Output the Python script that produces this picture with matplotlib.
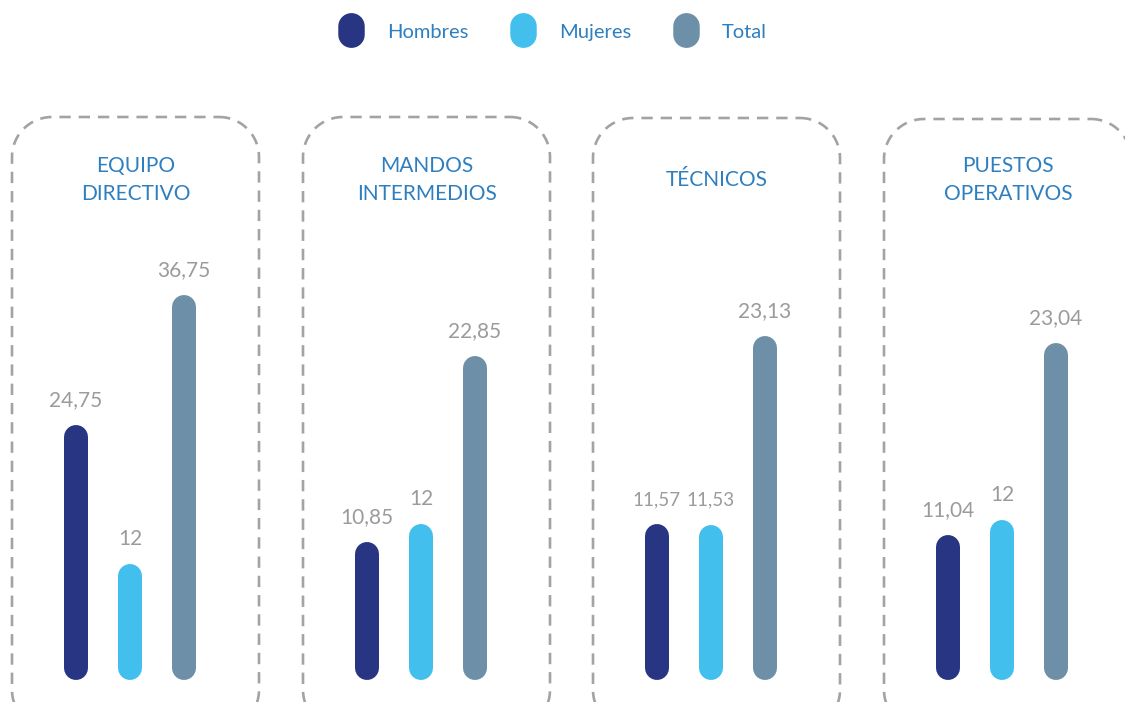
import matplotlib
matplotlib.use("Agg")
import matplotlib.pyplot as plt
from matplotlib.lines import Line2D
from matplotlib.path import Path
import numpy as np

# datos
categorias = ["EQUIPO\nDIRECTIVO", "MANDOS\nINTERMEDIOS", "TÉCNICOS", "PUESTOS\nOPERATIVOS"]
series = ["Hombres", "Mujeres", "Total"]
hombres = [24.75, 10.85, 11.57, 11.04]
mujeres = [12, 12, 11.53, 12]
total = [36.75, 22.85, 23.13, 23.04]

colores = ["#283583", "#43bfee", "#6e8fa8"]
azul_texto = "#2f7fbf"
gris = "#9b9b9b"

plt.rcParams["font.family"] = ["Lato", "DejaVu Sans"]

W, H, DPI = 11.25, 7.02, 100
fig = plt.figure(figsize=(W, H), dpi=DPI)
FW, FH = W * DPI, H * DPI


def caja_redondeada(x0, y0, x1, y1, r):
    # contorno en pixeles (origen arriba a la izquierda) -> pulgadas
    pts = []
    esquinas = [(x1 - r, y0 + r, -90, 0), (x1 - r, y1 - r, 0, 90),
                (x0 + r, y1 - r, 90, 180), (x0 + r, y0 + r, 180, 270)]
    for cx, cy, a0, a1 in esquinas:
        a = np.radians(np.linspace(a0, a1, 25))
        pts.append(np.column_stack([cx + r * np.cos(a), cy + r * np.sin(a)]))
    pts = np.vstack(pts + [pts[0][:1]])
    return pts[:, 0] / DPI, (FH - pts[:, 1]) / DPI


# el original no esta a escala: eje con origen en 3.5 y escala propia por panel
base = 3.5
escala = [10.85, 15.5, 16.3, 16.0]
centros_grupo = [130, 421, 711, 1002]
cajas_x = [12, 303, 593, 884]
cajas_top = [117, 117, 118, 119]

for i, cat in enumerate(categorias):
    # caja discontinua redondeada
    x0 = cajas_x[i]
    bx, by = caja_redondeada(x0, cajas_top[i], x0 + 247, 730, 40)
    fig.add_artist(Line2D(bx, by, transform=fig.dpi_scale_trans, color="#a3a3a3",
                          linewidth=1.9, linestyle=(0, (4.3, 3.0))))

    # titulo
    cx = x0 + 124
    fig.text(cx / FW, 1 - 180 / FH, cat, ha="center", va="center",
             fontsize=15, color=azul_texto, linespacing=1.45)

    # barras
    alto_px = 568
    ax = fig.add_axes([(centros_grupo[i] - 100) / FW, 34 / FH,
                       200 / FW, alto_px / FH])
    ax.set_xlim(-100 / 54, 100 / 54)
    ax.set_ylim(base, base + alto_px / escala[i])
    ax.axis("off")
    vals = [hombres[i], mujeres[i], total[i]]
    for j, v in enumerate(vals):
        xj = j - 1
        ax.plot([xj, xj], [base, v], color=colores[j], linewidth=24 * 72 / DPI,
                solid_capstyle="round", clip_on=False)
        etiqueta = f"{v:g}".replace(".", ",")
        fs = 13.5 if i == 2 and j < 2 else 15
        ax.annotate(etiqueta, (xj, v), xytext=(0, 37), textcoords="offset pixels",
                    ha="center", va="center", fontsize=fs, color=gris)

# leyenda con marcadores ovalados
t = np.linspace(0, np.pi, 20)
arriba = np.column_stack([0.75 * np.cos(t), 0.25 + 0.75 * np.sin(t)])
abajo = np.column_stack([-0.75 * np.cos(t), -0.25 - 0.75 * np.sin(t)])
ovalo = Path(np.vstack([arriba, abajo, arriba[:1]]))

handles = [Line2D([], [], linestyle="none", marker=ovalo, markersize=24,
                  markerfacecolor=c, markeredgecolor=c) for c in colores]
leg = fig.legend(handles, series, loc="center", ncol=3, frameon=False,
                 bbox_to_anchor=(0.488, 1 - 32 / FH),
                 fontsize=14.5, handletextpad=0.8, columnspacing=1.7)
for txt in leg.get_texts():
    txt.set_color(azul_texto)

fig.savefig("out.png", dpi=DPI)
